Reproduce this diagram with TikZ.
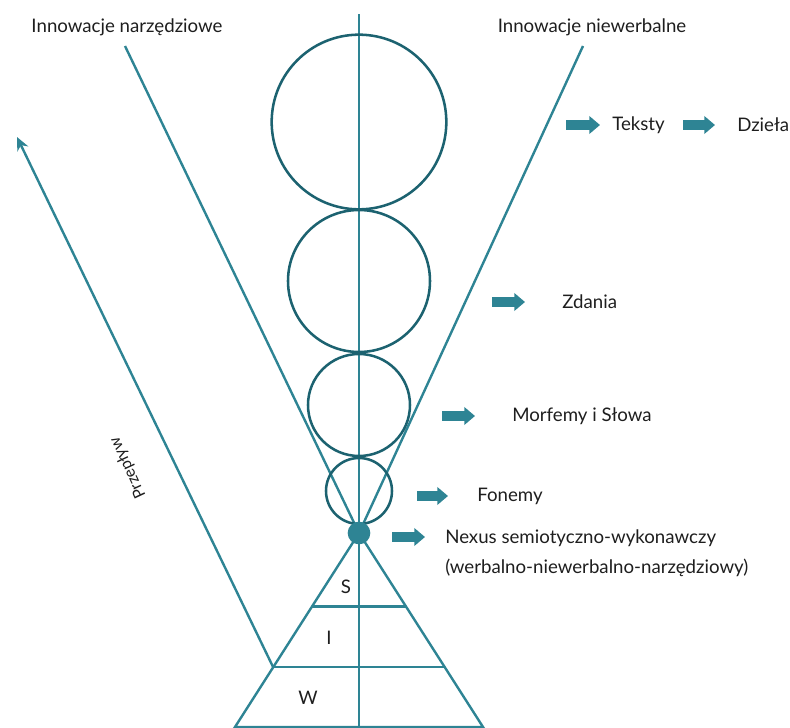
\documentclass[tikz,border=0pt]{standalone}
\usepackage{fontspec}
\setmainfont{Lato}
\usetikzlibrary{arrows.meta,calc}

\definecolor{lineteal}{RGB}{46,132,148}
\definecolor{ringteal}{RGB}{28,98,112}
\definecolor{ink}{RGB}{30,30,30}

\begin{document}
\begin{tikzpicture}[x=0.75pt, y=-0.75pt,
  ln/.style={draw=lineteal, line width=1.8pt},
  ring/.style={circle, draw=ringteal, line width=1.9pt, minimum size=#1, inner sep=0pt},
  lbl/.style={font=\fontsize{14}{16}\selectfont, text=ink, inner sep=0pt},
  fat/.style={-{Triangle[length=8pt,width=13pt]}, draw=lineteal, line width=7pt},
  >={Stealth[length=10pt,width=9pt]}]
\useasboundingbox (0,0) rectangle (790,728);
% axis, V and triangle
\coordinate (nx) at (359,533); \coordinate (top) at (359,14); \coordinate (bot) at (359,728);
\coordinate (tl) at (125,46); \coordinate (tr) at (583,46);
\coordinate (bl) at (235,727); \coordinate (br) at (483,727); \coordinate (flow) at (17,137);
\draw[ln] (top) -- (bot);
\draw[ln] (tl) -- (nx) -- (tr);
\draw[ln] (bl) -- (nx) -- (br) -- cycle;
\draw[ln] ($(nx)!0.379!(bl)$) -- ($(nx)!0.379!(br)$);
\draw[ln] ($(nx)!0.692!(bl)$) coordinate (fs) -- ($(nx)!0.692!(br)$);
\draw[ln, ->] (fs) -- (flow);
% circles
\node[ring=131pt] (c1) at (359,122) {}; \node[ring=106.5pt] (c2) at (359,281) {};
\node[ring=76.5pt] (c3) at (359,405) {}; \node[ring=49.5pt] (c4) at (359,491) {};
\node[circle, fill=lineteal, minimum size=17pt, inner sep=0pt] (nexus) at (nx) {};
% labels
\node[lbl] (narz) at (127,27) {Innowacje narzędziowe};
\node[lbl] (niew) at (592,27) {Innowacje niewerbalne};
\node[lbl, rotate=115, font=\fontsize{12}{14}\selectfont] (przep) at (128,468) {Przepływ};
\foreach \n/\t/\x/\y in {s/S/346/587, i/I/329/638, w/W/308/698} \node[lbl] (\n) at (\x,\y) {\t};
\foreach \n/\t/\x/\y/\a/\b in {teksty/Teksty/612/125/46/12, dziela/Dzieła/737/125/54/22, zdania/Zdania/562/302/70/37, morf/Morfemy i Słowa/512/416/70/37, fon/Fonemy/477/496/60/29}
{ \node[lbl, anchor=west] (\n) at (\x,\y) {\t};
  \draw[fat] ($(\n.west)+(-\a,0)$) -- ($(\n.west)+(-\b,0)$); }
\node[lbl, anchor=west, align=left, font=\fontsize{14}{22.5}\selectfont] (nex) at (445,553) {Nexus semiotyczno-wykonawczy\\(werbalno-niewerbalno-narzędziowy)};
\draw[fat] ($(nex.west)+(-53,-16)$) -- ($(nex.west)+(-20,-16)$);
\end{tikzpicture}
\end{document}
